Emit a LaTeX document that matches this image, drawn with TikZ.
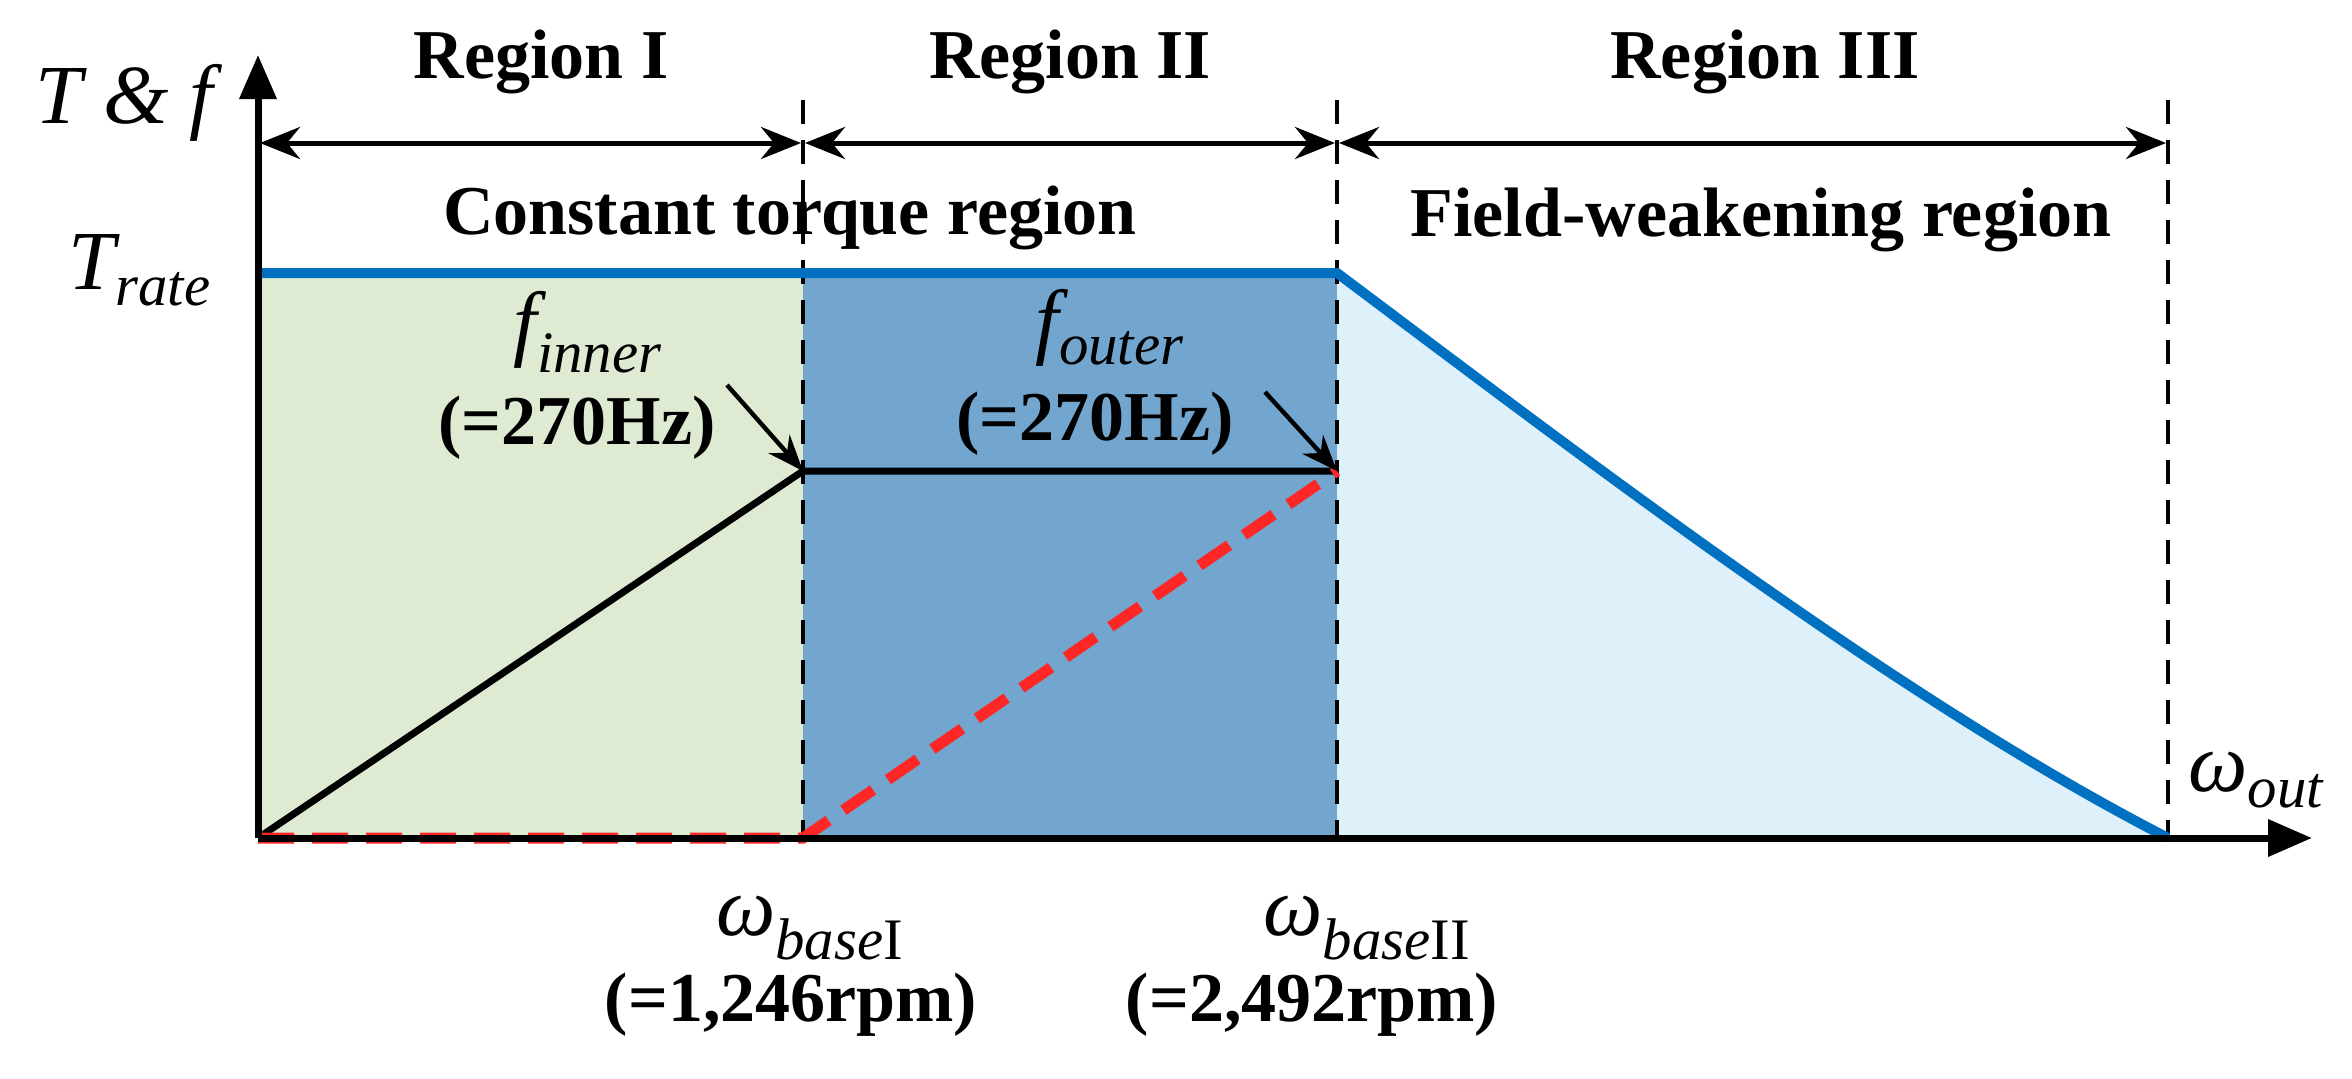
\documentclass[tikz,border=0pt]{standalone}
\usepackage{fontspec}
\setmainfont{Liberation Serif}
\usetikzlibrary{arrows.meta}
\begin{document}
\begin{tikzpicture}[x=0.5pt,y=-0.5pt,
 lbl/.style={font=\fontsize{35}{38}\selectfont\bfseries},
 mth/.style={font=\fontsize{42}{44}\selectfont\itshape},
 axis/.style={line width=3.5pt,-{Triangle[length=22pt,width=18pt]}},
 dim/.style={line width=2.5pt,{Stealth[length=20pt,width=16pt]}-{Stealth[length=20pt,width=16pt]}},
 vdash/.style={line width=2pt,dash pattern=on 12pt off 8pt},
 pt/.style={line width=2.2pt,-{Stealth[length=18pt,width=14pt]}}]
\useasboundingbox (0,0) rectangle (2352,1078);
\definecolor{cblue}{RGB}{0,112,192}
\definecolor{dblue}{RGB}{114,166,207}
\definecolor{lgreen}{RGB}{222,235,210}
\definecolor{lblue}{RGB}{222,240,250}
% coordinates
\coordinate (O) at (258,838);
\coordinate (B1) at (803,838);
\coordinate (B2) at (1337,838);
\coordinate (E) at (2168,838);
\coordinate (K1) at (803,471);
\coordinate (K2) at (1337,471);
\coordinate (T0) at (258,273);
\coordinate (T1) at (1337,273);
% fills
\fill[lgreen] (T0) rectangle (B1);
\fill[dblue] (803,273) rectangle (B2);
\fill[lblue] (T1) .. controls (1600,470) and (1900,700) .. (E) -- (B2) -- cycle;
% dashed verticals
\draw[vdash] (803,100) -- (B1);
\draw[vdash] (1337,100) -- (B2);
\draw[vdash] (2168,100) -- (E);
% curves
\draw[line width=5pt,cblue] (T0) -- (T1) .. controls (1600,470) and (1900,700) .. (E);
\draw[line width=3.5pt] (O) -- (K1) -- (K2);
\draw[line width=5.5pt,red!85!white,dash pattern=on 18pt off 9pt] (O) -- (B1) -- (K2);
% axes
\draw[axis] (O) -- (258,55);
\draw[axis] (O) -- (2312,838);
% region arrows
\coordinate (R0) at (260,143); \coordinate (R1) at (801,143);
\coordinate (R1b) at (805,143); \coordinate (R2) at (1335,143);
\coordinate (R2b) at (1339,143); \coordinate (R3) at (2166,143);
\draw[dim] (R0) -- (R1);
\draw[dim] (R1b) -- (R2);
\draw[dim] (R2b) -- (R3);
\node[lbl] (r1) at (541,62) {Region I};
\node[lbl] (r2) at (1070,62) {Region II};
\node[lbl] (r3) at (1765,62) {Region III};
\node[lbl] (ct) at (790,218) {Constant torque region};
\node[lbl] (fw) at (1761,220) {Field-weakening region};
% labels
\node[mth] (tf) at (124,103) {T \& f};
\node[mth] (tr) at (140,270) {T\textsubscript{rate}};
\node[mth] (wo) at (2256,780) {ω\textsubscript{out}};
\node[mth] (fi) at (588,332) {f\textsubscript{inner}};
\node[lbl] (fi2) at (577,428) {(=270Hz)};
\node[mth] (fo) at (1110,328) {f\textsubscript{outer}};
\node[lbl] (fo2) at (1095,424) {(=270Hz)};
\draw[pt] (727,385) -- (K1);
\draw[pt] (1265,392) -- (K2);
\node[mth] (wb1) at (810,928) {ω\textsubscript{base\upshape I}};
\node[lbl] (wb1b) at (791,1005) {(=1,246rpm)};
\node[mth] (wb2) at (1367,928) {ω\textsubscript{base\upshape II}};
\node[lbl] (wb2b) at (1312,1005) {(=2,492rpm)};
\end{tikzpicture}
\end{document}
